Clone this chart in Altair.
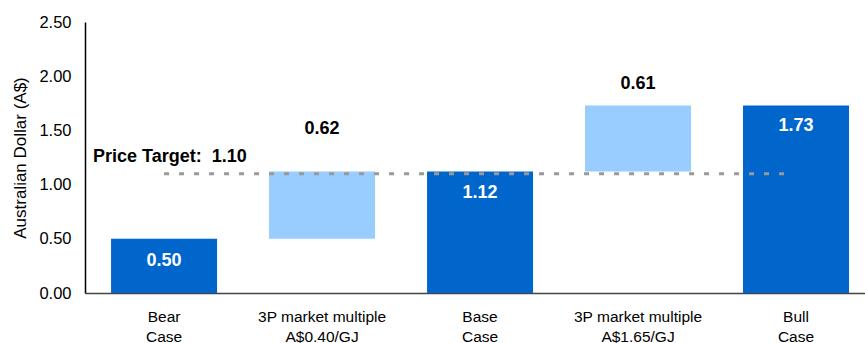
import altair as alt
import pandas as pd

categories = ["Bear|Case", "3P market multiple|A$0.40/GJ", "Base|Case",
              "3P market multiple|A$1.65/GJ", "Bull|Case"]
starts = [0.0, 0.50, 0.0, 1.12, 0.0]
ends = [0.50, 1.12, 1.12, 1.73, 1.73]
labels = ["0.50", "0.62", "1.12", "0.61", "1.73"]
kinds = ["total", "step", "total", "step", "total"]
label_y = [0.295, 1.51, 0.92, 1.93, 1.54]
price_target = 1.10
y_ticks = [0.0, 0.5, 1.0, 1.5, 2.0, 2.5]

FONT = "Liberation Sans"
DARK = "#0066CC"
LIGHT = "#99CCFF"

df = pd.DataFrame({
    "cat": categories, "start": starts, "end": ends,
    "label": labels, "kind": kinds, "ly": label_y,
})

x_scale = alt.Scale(domain=categories, paddingInner=0.329, paddingOuter=0.133, align=0.62)
x_enc = alt.X("cat:N", sort=categories, scale=x_scale,
              axis=alt.Axis(title=None, labelAngle=0, ticks=False,
                            labelExpr="split(datum.label, '|')",
                            labelFont=FONT, labelFontSize=15.5, labelColor="#000",
                            labelLineHeight=20, labelPadding=16,
                            domainColor="#444", domainWidth=1.5))
y_scale = alt.Scale(domain=[0, 2.5], nice=False)
y_enc = alt.Y("start:Q", scale=y_scale,
              axis=alt.Axis(title="Australian Dollar (A$)", values=y_ticks, format=".2f",
                            ticks=False, grid=False, labelFont=FONT, labelFontSize=16.5,
                            labelColor="#000", labelPadding=14, titleFont=FONT,
                            titleFontSize=17, titleFontWeight="normal", titleColor="#000",
                            titlePadding=9, domainColor="#000", domainWidth=1.5))

base = alt.Chart(df)

bars = base.mark_bar().encode(
    x=x_enc, y=y_enc, y2="end:Q",
    color=alt.Color("kind:N", scale=alt.Scale(domain=["total", "step"], range=[DARK, LIGHT]),
                    legend=None),
)

text = base.mark_text(font=FONT, fontSize=18, fontWeight="bold", baseline="middle").encode(
    x=alt.X("cat:N", sort=categories, scale=x_scale),
    y=alt.Y("ly:Q", scale=y_scale),
    text="label:N",
    color=alt.Color("kind:N", scale=alt.Scale(domain=["total", "step"], range=["#ffffff", "#000000"]),
                    legend=None),
)

rule = alt.Chart(pd.DataFrame({"pt": [price_target]})).mark_rule(
    color="#999999", strokeWidth=3, strokeDash=[5, 10], x2Offset=-9
).encode(
    x=alt.datum(categories[0], scale=x_scale),
    x2=alt.datum(categories[-1]),
    y=alt.Y("pt:Q", scale=y_scale),
)

pt_text = alt.Chart(pd.DataFrame({"pt": [price_target],
                                  "t": ["Price Target:\u00a0 1.10"]})).mark_text(
    font=FONT, fontSize=18, fontWeight="bold", align="left", baseline="middle", dx=-71, dy=-17,
    color="#000"
).encode(
    x=alt.datum(categories[0], scale=x_scale),
    y=alt.Y("pt:Q", scale=y_scale),
    text="t:N",
)

chart = alt.layer(bars, rule, text, pt_text).resolve_scale(color="independent").properties(
    width=780, height=271,
    autosize=alt.AutoSizeParams(type="none"),
    padding={"left": 85, "top": 22, "right": 0, "bottom": 50},
    background="white",
).configure_view(stroke=None)

chart.save("out.html", embed_options={"renderer": "svg", "actions": False})
